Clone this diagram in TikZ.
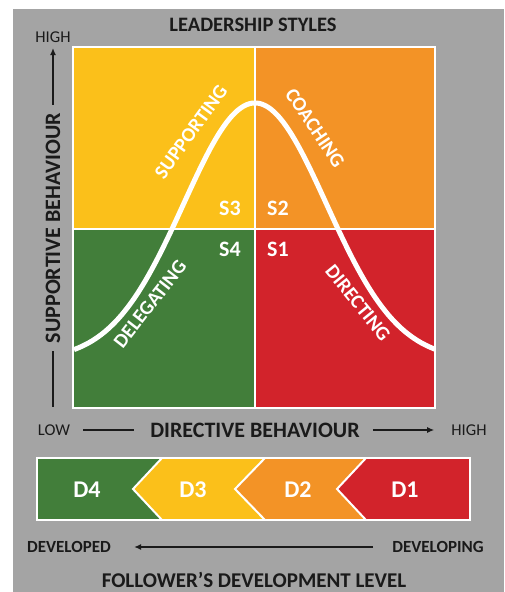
\documentclass[tikz,border=0pt]{standalone}
\usepackage{fontspec}
\setmainfont{Carlito}
\usetikzlibrary{arrows.meta}
\definecolor{bggray}{HTML}{A4A4A4}
\definecolor{qyellow}{HTML}{FBC01A}
\definecolor{qorange}{HTML}{F39326}
\definecolor{qgreen}{HTML}{427E3A}
\definecolor{qred}{HTML}{D2232B}
\definecolor{ink}{HTML}{1A1A1A}
\tikzset{
  axislabel/.style={inner sep=0pt, text=ink, font=\bfseries\fontsize{22}{24}\selectfont},
  endlabel/.style={inner sep=0pt, text=ink, font=\fontsize{16.5}{18}\selectfont},
  devlabel/.style={inner sep=0pt, text=ink, font=\bfseries\fontsize{17}{19}\selectfont},
  slabel/.style={inner sep=0pt, text=white, font=\bfseries\fontsize{22}{24}\selectfont},
  dlabel/.style={inner sep=0pt, text=white, font=\bfseries\fontsize{24}{26}\selectfont},
  curvelabel/.style={inner sep=0pt, text=white, font=\bfseries\fontsize{20}{22}\selectfont},
  quad/.style={draw=white, line width=2pt},
  chev/.style={draw=white, line width=2pt, line join=miter},
  axisarrow/.style={ink, line width=1.3pt, -{Latex[length=7pt,width=6pt]}},
  axisline/.style={ink, line width=1.3pt}
}
\begin{document}
\begin{tikzpicture}[x=1pt,y=-1pt]
\useasboundingbox (0,0) rectangle (504,592);
\fill[white] (0,0) rectangle (504,592);
\fill[bggray] (13,9) rectangle (504,592);

% quadrants
\fill[qyellow] (73,47) rectangle (255,229);
\fill[qorange] (255,47) rectangle (435,229);
\fill[qgreen] (73,229) rectangle (255,408);
\fill[qred] (255,229) rectangle (435,408);
\draw[quad] (73,47) rectangle (435,408);
\draw[quad] (255,47) -- (255,408);
\draw[quad] (73,229) -- (435,229);

% bell curve
\draw[white, line width=5pt] plot[domain=74:435, samples=120, smooth]
  (\x, {360-257*exp(-(((\x-255)/100)^2)/1.0221)});

% curve labels
\node[curvelabel, rotate=54] (sup) at (191,132) {SUPPORTING};
\node[curvelabel, rotate=-56] (coa) at (315,128) {COACHING};
\node[curvelabel, rotate=52] (del) at (150,304) {DELEGATING};
\node[curvelabel, rotate=-51] (dir) at (358,303) {DIRECTING};

% S labels
\node[slabel] (s3) at (230,208) {S3};
\node[slabel] (s2) at (278,208) {S2};
\node[slabel] (s4) at (230,249) {S4};
\node[slabel] (s1) at (278,249) {S1};

% title
\node[axislabel, font=\bfseries\fontsize{20.5}{22}\selectfont] (title) at (253,25) {LEADERSHIP STYLES};

% vertical axis
\node[endlabel] (vhigh) at (53,37) {HIGH};
\node[axislabel, rotate=90] (vlab) at (53,228) {SUPPORTIVE BEHAVIOUR};
\coordinate (vbot) at (53,407);
\coordinate (vtop) at (53,48);
\draw[axisarrow] (vlab.east) ++(0,-8) -- (vtop);
\draw[axisline] (vlab.west) ++(0,8) -- (vbot);

% horizontal axis
\node[endlabel] (hlow) at (54,430) {LOW};
\node[axislabel] (hlab) at (255,430) {DIRECTIVE BEHAVIOUR};
\node[endlabel] (hhigh) at (469,430) {HIGH};
\draw[axisline] (hlow.east) ++(13,0) -- ([xshift=-16pt]hlab.west);
\draw[axisarrow] ([xshift=13pt]hlab.east) -- ([xshift=-17pt]hhigh.west);

% development bar
\fill[qgreen] (37,458) -- (162,458) -- (133,489) -- (162,520) -- (37,520) -- cycle;
\fill[qyellow] (162,458) -- (265,458) -- (235,489) -- (265,520) -- (162,520) -- (133,489) -- cycle;
\fill[qorange] (265,458) -- (366,458) -- (337,489) -- (366,520) -- (265,520) -- (235,489) -- cycle;
\fill[qred] (366,458) -- (470,458) -- (470,520) -- (366,520) -- (337,489) -- cycle;
\draw[chev] (162,458) -- (133,489) -- (162,520);
\draw[chev] (265,458) -- (235,489) -- (265,520);
\draw[chev] (366,458) -- (337,489) -- (366,520);
\draw[chev] (37,458) rectangle (470,520);

\node[dlabel] (d4) at (87,490) {D4};
\node[dlabel] (d3) at (193,490) {D3};
\node[dlabel] (d2) at (298,490) {D2};
\node[dlabel] (d1) at (405,490) {D1};

% development arrow
\node[devlabel] (dved) at (69,547) {DEVELOPED};
\node[devlabel] (dving) at (438,547) {DEVELOPING};
\draw[axisarrow] ([xshift=-19pt]dving.west) -- ([xshift=23pt]dved.east);

\node[axislabel, font=\bfseries\fontsize{21}{23}\selectfont] (foll) at (254,580) {FOLLOWER’S DEVELOPMENT LEVEL};
\end{tikzpicture}
\end{document}
